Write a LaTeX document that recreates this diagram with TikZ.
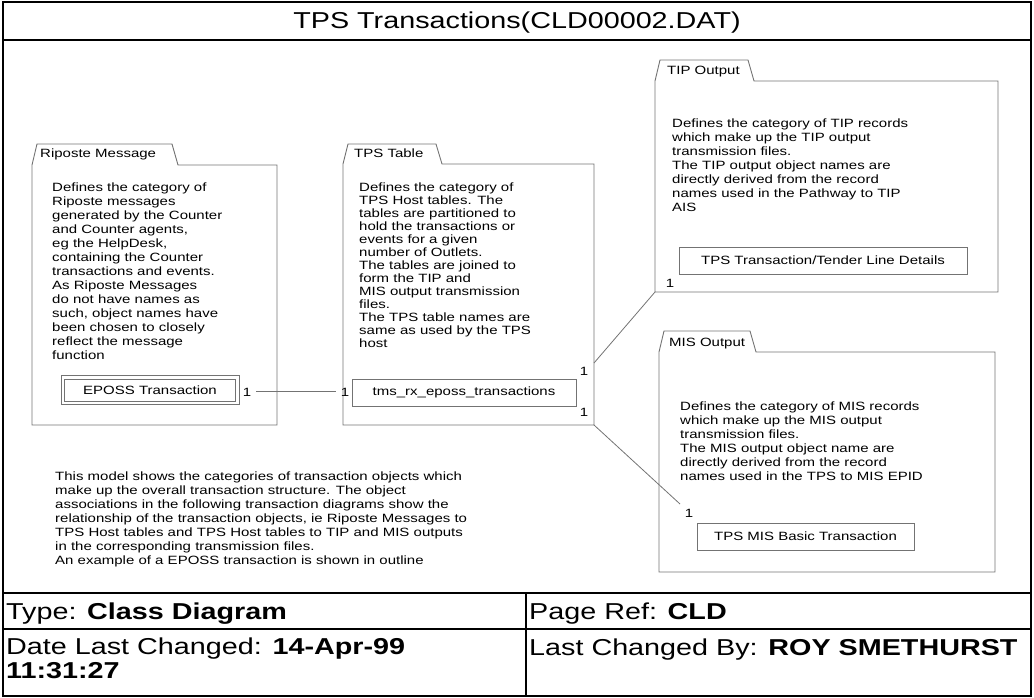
\documentclass[tikz,border=0pt]{standalone}
\usepackage{fontspec}
\setmainfont{Liberation Sans}[FakeStretch=1.25]
\usetikzlibrary{calc}

% package outline with a folder tab: name, x1, x2, y(tab top), y(body top), x(tab right), y(bottom)
\newcommand\pkgframe[7]{%
  \coordinate (#1-sw) at (#2,#7);
  \coordinate (#1-se) at (#3,#7);
  \coordinate (#1-nw) at (#2,#5);
  \draw[pkgline] (#1-sw) -- (#1-nw) -- ({#2+5},#4) -- (#6,#4) -- ({#6+6},#5) -- (#3,#5) -- (#1-se) -- cycle;
}

\begin{document}
\begin{tikzpicture}[x=1pt,y=-1pt,
  pkgline/.style={draw=black!55,line width=0.9pt},
  conn/.style={draw=black!55,line width=0.8pt},
  small/.style={font=\fontsize{12}{14}\selectfont,inner sep=0pt},
  desc/.style={small,align=left,anchor=north west},
  mult/.style={font=\fontsize{12}{14}\selectfont,inner sep=5pt,anchor=base},
  classbox/.style={draw=black!55,line width=0.9pt,font=\fontsize{12}{14}\selectfont,minimum height=27pt,inner sep=0pt},
  foot/.style={font=\fontsize{23}{24}\selectfont,inner sep=0pt}]

\useasboundingbox (0,0) rectangle (1034,698);

% sheet frame, title bar and footer grid
\draw[line width=2.5pt] (3,2) rectangle (1031,696);
\draw[line width=1.8pt] (3,40) -- (1031,40);
\draw[line width=2.2pt] (3,593) -- (1031,593);
\draw[line width=1.6pt] (3,629) -- (1031,629);
\draw[line width=2pt] (526,593) -- (526,696);

\node[foot,anchor=base] (title) at (517,29) {TPS Transactions(CLD00002.DAT)};

% packages
\pkgframe{rip}{32}{277}{144}{165}{172}{425}
\pkgframe{tps}{343}{594}{144}{164}{436}{425}
\pkgframe{tip}{655}{998}{60}{81}{748}{292}
\pkgframe{mis}{659}{995}{331}{352}{750}{572}

\node[small,anchor=base west] (riplab) at (40,158) {Riposte Message};
\node[small,anchor=base west] (tpslab) at (354,158) {TPS Table};
\node[small,anchor=base west] (tiplab) at (667,75) {TIP Output};
\node[small,anchor=base west] (mislab) at (669,346) {MIS Output};

\node[desc] (riptext) at (52,182.5) {Defines the category of\\Riposte messages\\generated by the Counter\\and Counter agents,\\eg the HelpDesk,\\containing the Counter\\transactions and events.\\As Riposte Messages\\do not have names as\\such, object names have\\been chosen to closely\\reflect the message\\function};

\node[desc,font=\fontsize{12}{13}\selectfont] (tpstext) at (359,182.5) {Defines the category of\\TPS Host tables. The\\tables are partitioned to\\hold the transactions or\\events for a given\\number of Outlets.\\The tables are joined to\\form the TIP and\\MIS output transmission\\files.\\The TPS table names are\\same as used by the TPS\\host};

\node[desc] (tiptext) at (672,119) {Defines the category of TIP records\\which make up the TIP output\\transmission files.\\The TIP output object names are\\directly derived from the record\\names used in the Pathway to TIP\\AIS};

\node[desc] (mistext) at (680,402) {Defines the category of MIS records\\which make up the MIS output\\transmission files.\\The MIS output object name are\\directly derived from the record\\names used in the TPS to MIS EPID};

\node[desc] (note) at (55,472) {This model shows the categories of transaction objects which\\make up the overall transaction structure. The object\\associations in the following transaction diagrams show the\\relationship of the transaction objects, ie Riposte Messages to\\TPS Host tables and TPS Host tables to TIP and MIS outputs\\in the corresponding transmission files.\\An example of a EPOSS transaction is shown in outline};

% classes (the EPOSS class is drawn with a double outline)
\node[classbox,minimum width=171pt,minimum height=22pt] (eposs) at (150,390) {EPOSS Transaction};
\draw[pkgline] ($(eposs.south west)+(-3,3)$) rectangle ($(eposs.north east)+(3,-3)$);
\node[classbox,minimum width=224pt] (tms) at (464,392.5) {tms\_rx\_eposs\_transactions};
\node[classbox,minimum width=288pt] (tipc) at (823,260.5) {TPS Transaction/Tender Line Details};
\node[classbox,minimum width=217pt] (misc) at (805.5,536.5) {TPS MIS Basic Transaction};

% multiplicities
\node[mult] (r1) at (247,396) {1};
\node[mult] (t1) at (345,396) {1};
\node[mult] (t2) at (584,375) {1};
\node[mult] (t3) at (584,416) {1};
\node[mult] (p1) at (670,287) {1};
\node[mult] (q1) at (689,517) {1};

% associations
\coordinate (tps-e) at (594,363);
\coordinate (mis-in) at (680,504);
\draw[conn] (r1.east) -- (t1.west);
\draw[conn] (tps-e) -- (tip-sw);
\draw[conn] (tps-se) -- (mis-in);

% footer entries
\node[foot,anchor=base west] (type) at (6,619) {Type: \textbf{Class Diagram}};
\node[foot,anchor=base west] (pref) at (529,619) {Page Ref: \textbf{CLD}};
\node[foot,anchor=north west,align=left] (date) at (6,638) {Date Last Changed: \textbf{14-Apr-99}\\\textbf{11:31:27}};
\node[foot,anchor=base west] (lcb) at (529,655) {Last Changed By: \textbf{ROY SMETHURST}};
\end{tikzpicture}
\end{document}
